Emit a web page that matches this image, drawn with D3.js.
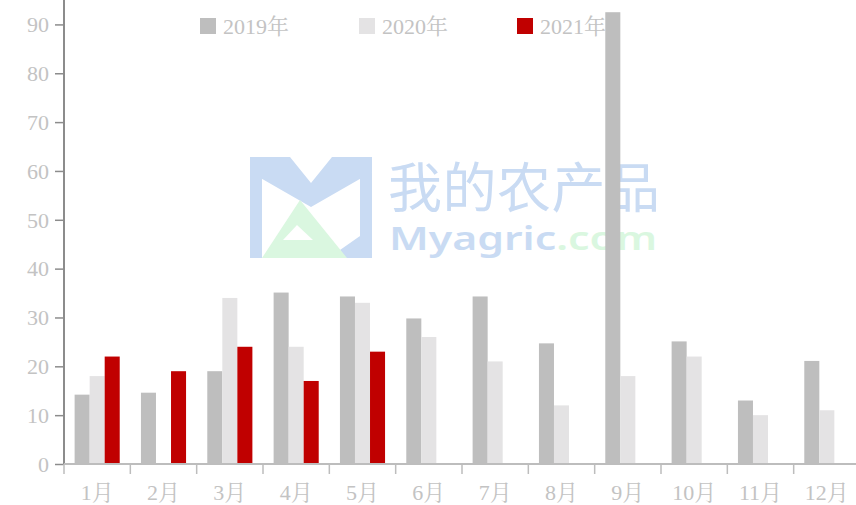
<!DOCTYPE html>
<html><head><meta charset="utf-8">
<script src="https://cdn.jsdelivr.net/npm/d3@7/dist/d3.min.js"></script>
<style>
html,body{margin:0;padding:0;background:#fff;}
svg{display:block;}
text{font-family:"Liberation Serif","Times New Roman","Noto Serif CJK SC","Noto Sans CJK SC",serif;}
</style></head>
<body><svg id="c" width="856" height="505"></svg>
<script>
const months = ["1月","2月","3月","4月","5月","6月","7月","8月","9月","10月","11月","12月"];
const seriesNames = ["2019年","2020年","2021年"];
const v2019 = [14.2,14.6,19,35.1,34.3,29.8,34.3,24.7,92.5,25.1,13,21.1];
const v2020 = [18,null,34,24,33,26,21,12,18,22,10,11];
const v2021 = [22,19,24,17,23,null,null,null,null,null,null,null];
const yTicks = [0,10,20,30,40,50,60,70,80,90];
const colors = ["#bebebe","#e4e3e4","#c00000"];

const svg = d3.select("#c");
const x0 = d3.scaleBand().domain(months).range([64,860]).paddingInner(0.32).paddingOuter(0.16);
const x1 = d3.scaleBand().domain(seriesNames).range([0,x0.bandwidth()]);
const y = d3.scaleLinear().domain([0,95]).range([464,0]);

// watermark
const wm = svg.append("g").attr("class","watermark");
const blue = "#c9dbf3", green = "#daf7e0";
wm.append("path").attr("d","M250,157H262V258H250Z M360,157H372V258H360Z M250,157 L290,157 L311,183 L332,157 L372,157 L372,172 L311,207 L250,172 Z M340,250 L360,236 L360,258 L346,258 Z").attr("fill",blue);
wm.append("path").attr("d","M300,200 L262,258 L347,258 Z M297,225 L283,240 L313,240 Z").attr("fill",green).attr("fill-rule","evenodd");
wm.append("text").attr("x",388).attr("y",208).attr("font-size",54).attr("fill",blue)
  .style("font-family","'Noto Sans CJK SC',sans-serif").attr("textLength",272).text("我的农产品");
const t2 = wm.append("text").attr("x",389).attr("y",250).attr("font-size",33).attr("fill",blue)
  .style("font-family","'Noto Sans','DejaVu Sans',sans-serif").attr("font-weight",600);
t2.append("tspan").text("Myagric");
t2.append("tspan").attr("fill",green).text(".com");
t2.attr("textLength",268).attr("lengthAdjust","spacingAndGlyphs");

// bars
const data = months.map((m,i)=>({m, vals:[v2019[i],v2020[i],v2021[i]]}));
const g = svg.append("g");
data.forEach(d=>{
  d.vals.forEach((v,j)=>{
    if(v==null) return;
    g.append("rect")
      .attr("x", x0(d.m)+x1(seriesNames[j]))
      .attr("width", x1.bandwidth())
      .attr("y", y(v))
      .attr("height", y(0)-y(v))
      .attr("fill", colors[j]);
  });
});

// y axis
const yAxis = svg.append("g").attr("transform","translate(64,0)")
  .call(d3.axisLeft(y).tickValues(yTicks).tickSize(9).tickPadding(6));
yAxis.select(".domain").attr("d","M0,0V464").attr("stroke","#8c8c8c").attr("stroke-width",2);
yAxis.selectAll(".tick line").attr("stroke","#8c8c8c").attr("stroke-width",1.5);
yAxis.selectAll(".tick text").attr("fill","#c3c3c3").attr("font-size",22).attr("dy","0.33em");

// x axis
const xAxis = svg.append("g").attr("transform","translate(0,464)")
  .call(d3.axisBottom(x0).tickSize(0).tickPadding(20));
xAxis.select(".domain").attr("d","M64,0H860").attr("stroke","#bdbdbd").attr("stroke-width",2);
xAxis.selectAll(".tick text").attr("fill","#c3c3c3").attr("font-size",22);
const bounds = months.map(m=>x0(m)-x0.step()*x0.paddingInner()/2);
xAxis.selectAll(".bt").data(bounds).enter().append("line")
  .attr("x1",d=>d).attr("x2",d=>d).attr("y1",0).attr("y2",10)
  .attr("stroke","#bdbdbd").attr("stroke-width",1.5);

// legend
const lx = [200,359,517];
const leg = svg.append("g");
seriesNames.forEach((s,i)=>{
  leg.append("rect").attr("x",lx[i]).attr("y",18).attr("width",16).attr("height",16).attr("fill",colors[i]);
  leg.append("text").attr("x",lx[i]+23).attr("y",34).attr("font-size",22).attr("fill","#c3c3c3").text(s);
});
</script></body></html>
